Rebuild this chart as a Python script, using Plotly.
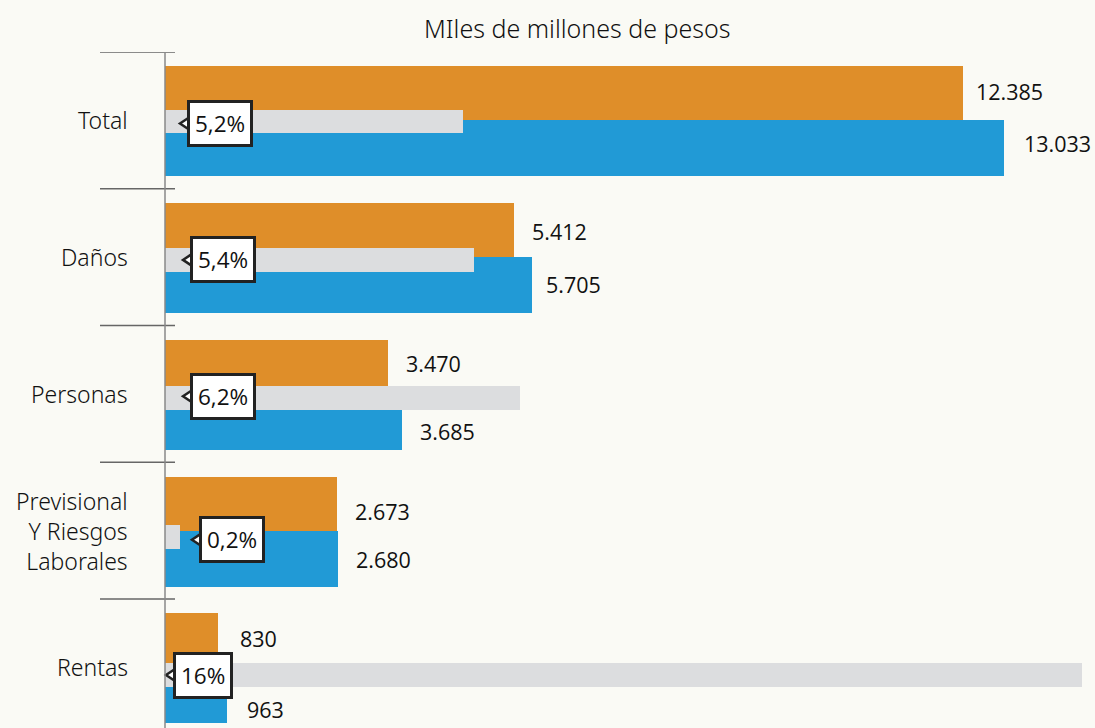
import plotly.graph_objects as go

categories = ["Total", "Daños", "Personas", "Previsional<br>Y Riesgos<br>Laborales", "Rentas"]
prev_year = [12385, 5412, 3470, 2673, 830]
curr_year = [13033, 5705, 3685, 2680, 963]
growth_pct = [5.2, 5.4, 6.2, 0.26, 16.0]
growth_labels = ["5,2%", "5,4%", "6,2%", "0,2%", "16%"]
prev_labels = ["12.385", "5.412", "3.470", "2.673", "830"]
curr_labels = ["13.033", "5.705", "3.685", "2.680", "963"]
title_text = "MIles de millones de pesos"

# style
W, H = 1095, 728
L, T = 165, 52
PW, PH = W - L, H - T
ORANGE = "#DF8E29"
BLUE = "#219AD6"
GREY = "#DCDDDF"
BG = "#FAFAF5"
LABEL_FONT = "Noto Sans"
VALUE_FONT = "Open Sans"
callout_left_px = [187, 190, 190, 199, 173]
callout_yshift = [-2, 0, 2, -3, 0]
prev_xshift = [11, 16, 16, 16, 20]
curr_xshift = [18, 12, 16, 16, 18]
prev_yshift = [2, -2, 3, -8, 2]
curr_yshift = [4, 0, -10, -2, -15]

def px_to_paper_x(px):
    return (px - L) / PW

n = len(categories)
idx = list(range(n))

fig = go.Figure()
fig.add_trace(go.Bar(
    y=idx, x=prev_year, orientation="h", marker=dict(color=ORANGE, line=dict(width=0)),
    width=0.395, offset=-0.395, hoverinfo="skip", showlegend=False))
fig.add_trace(go.Bar(
    y=idx, x=curr_year, orientation="h", marker=dict(color=BLUE, line=dict(width=0)),
    width=0.41, offset=0, hoverinfo="skip", showlegend=False))
fig.add_trace(go.Bar(
    y=idx, x=growth_pct, orientation="h", marker=dict(color=GREY, line=dict(width=0)),
    width=0.173, xaxis="x2", yaxis="y2", hoverinfo="skip", showlegend=False))

annotations = []
shapes = []

# title
annotations.append(dict(text=title_text, xref="paper", yref="paper",
                        x=px_to_paper_x(577), y=1 + (T - 28) / PH, xanchor="center", yanchor="middle",
                        showarrow=False, font=dict(family=LABEL_FONT, size=25, color="#111", weight=300)))

for i in idx:
    # category label
    annotations.append(dict(text=categories[i], xref="paper", yref="y",
                            x=px_to_paper_x(130), y=i, yshift=0, xanchor="right", yanchor="middle",
                            align="right", showarrow=False,
                            font=dict(family=LABEL_FONT, size=23, color="#111", weight=300)))
    # value labels
    annotations.append(dict(text=prev_labels[i], xref="x", yref="y", x=prev_year[i], y=i - 0.2,
                            xanchor="left", yanchor="middle", xshift=prev_xshift[i], yshift=prev_yshift[i],
                            showarrow=False, font=dict(family=VALUE_FONT, size=21.5, color="#111")))
    annotations.append(dict(text=curr_labels[i], xref="x", yref="y", x=curr_year[i], y=i + 0.2,
                            xanchor="left", yanchor="middle", xshift=curr_xshift[i], yshift=curr_yshift[i],
                            showarrow=False, font=dict(family=VALUE_FONT, size=21.5, color="#111")))
    # callout
    bx = px_to_paper_x(callout_left_px[i])
    shapes.append(dict(type="path", xref="paper", yref="y2", xsizemode="pixel", ysizemode="pixel",
                       xanchor=bx, yanchor=i, path="M 2 %d L -7 %d L 2 %d Z" % (
                           callout_yshift[i] - 6, callout_yshift[i], callout_yshift[i] + 6),
                       fillcolor="white", line=dict(color="#222", width=2.5), layer="above"))
    annotations.append(dict(text=growth_labels[i], xref="paper", yref="y2", x=bx, y=i,
                            yshift=callout_yshift[i],
                            xanchor="left", yanchor="middle", showarrow=False,
                            bgcolor="white", bordercolor="#222", borderwidth=3, borderpad=5,
                            font=dict(family=VALUE_FONT, size=22.5, color="#111")))

# boundary tick lines
for b in [-0.5, 0.5, 1.5, 2.5, 3.5]:
    shapes.append(dict(type="line", xref="paper", yref="y", x0=px_to_paper_x(100), x1=px_to_paper_x(175),
                       y0=b, y1=b, line=dict(color="#666", width=1.5), layer="above"))
# vertical axis line
shapes.append(dict(type="line", xref="paper", yref="paper", x0=0, x1=0, y0=0, y1=1,
                   line=dict(color="#888", width=1.5), layer="above"))

fig.update_layout(
    width=W, height=H,
    margin=dict(l=L, r=0, t=T, b=0),
    paper_bgcolor=BG, plot_bgcolor=BG,
    barmode="overlay", bargap=0,
    xaxis=dict(range=[0, PW / 0.0644], visible=False, fixedrange=True),
    yaxis=dict(range=[-0.5 + PH / 136.75, -0.5], visible=False, fixedrange=True),
    xaxis2=dict(range=[0, PW / 57.3], overlaying="x", visible=False, fixedrange=True),
    yaxis2=dict(range=[-0.502 + PH / 138.4, -0.502], overlaying="y", visible=False, fixedrange=True),
    annotations=annotations,
    shapes=shapes,
)

fig.write_html("out.html", config={"displayModeBar": False},
               post_script="document.body.style.margin='0';document.body.style.background='#FAFAF5';")
